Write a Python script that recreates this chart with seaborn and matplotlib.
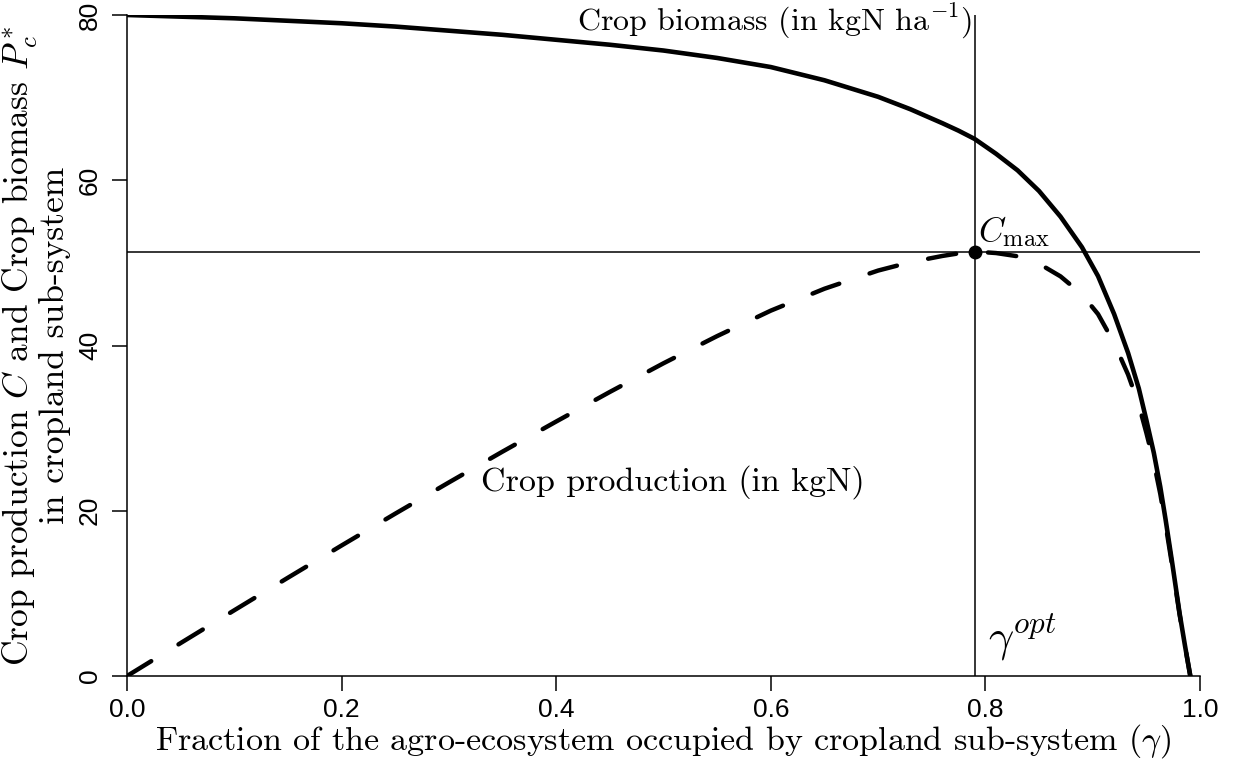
import numpy as np
import pandas as pd
import seaborn as sns
import matplotlib.pyplot as plt

# values
gamma = [0.0, 0.05, 0.1, 0.15, 0.2, 0.25, 0.3, 0.35, 0.4, 0.45, 0.5, 0.55,
         0.6, 0.65, 0.7, 0.73, 0.76, 0.775, 0.79, 0.8, 0.81, 0.83, 0.85, 0.87,
         0.89, 0.905, 0.92, 0.933, 0.943, 0.95, 0.957, 0.963, 0.968, 0.974,
         0.981, 0.986, 0.991]
biomass = [80.0, 79.8, 79.6, 79.3, 79.0, 78.6, 78.1, 77.6, 77.0, 76.4, 75.7, 74.8,
           73.7, 72.1, 70.1, 68.6, 66.9, 66.0, 65.0, 64.1, 63.2, 61.2, 58.7, 55.6,
           51.9, 48.4, 43.8, 39.1, 34.8, 31.0, 27.0, 22.9, 18.9, 13.8,
           7.6, 3.7, 0.0]
production = [0.0, 3.99, 7.96, 11.9, 15.8, 19.65, 23.43, 27.16, 30.8, 34.38, 37.85, 41.14,
              44.22, 46.87, 49.07, 50.08, 50.84, 51.15, 51.35, 51.28, 51.19, 50.8, 49.9, 48.37,
              46.19, 43.8, 40.3, 36.48, 32.82, 29.45, 25.84, 22.05, 18.3, 13.44,
              7.46, 3.65, 0.0]
gamma_opt = 0.79
c_max = 51.3

df = pd.DataFrame({"gamma": gamma, "biomass": biomass, "production": production})

sns.set_theme(style="ticks")
plt.rcParams["mathtext.fontset"] = "cm"
plt.rcParams["font.family"] = ["Liberation Sans", "DejaVu Sans"]
plt.rcParams["text.color"] = "black"
plt.rcParams["axes.labelcolor"] = "black"
serif = ["cmr10", "DejaVu Serif"]

fig = plt.figure(figsize=(12.39, 7.69), dpi=100)
ax = fig.add_axes([0.1025, 0.1209, 0.866, 0.8596])

sns.lineplot(data=df, x="gamma", y="biomass", ax=ax, color="black",
             linewidth=3.3, errorbar=None)
sns.lineplot(data=df, x="gamma", y="production", ax=ax, color="black",
             linewidth=3.2, errorbar=None, linestyle=(0, (6.4, 7.2)))
ax.lines[-1].set_dash_capstyle("round")
ax.lines[0].set_solid_joinstyle("round")

ax.axhline(c_max, color="black", linewidth=1.1)
ax.axvline(gamma_opt, color="black", linewidth=1.1)
ax.plot([gamma_opt], [c_max], "o", color="black", markersize=9)

ax.set_xlim(0, 1)
ax.set_ylim(0, 80)
ax.margins(0)
ax.set_xticks([0.0, 0.2, 0.4, 0.6, 0.8, 1.0])
ax.set_xticklabels(["0.0", "0.2", "0.4", "0.6", "0.8", "1.0"], fontsize=19)
ax.set_yticks([0, 20, 40, 60, 80])
ax.set_yticklabels(["0", "20", "40", "60", "80"], rotation=90, va="center", fontsize=19)
ax.tick_params(axis="both", direction="out", length=11, width=1.1,
               color="black", labelcolor="black", pad=5)
ax.tick_params(axis="y", pad=7)

for side in ["top", "right"]:
    ax.spines[side].set_visible(False)
for side in ["left", "bottom"]:
    ax.spines[side].set_linewidth(1.1)
    ax.spines[side].set_color("black")

ax.set_xlabel(r"Fraction of the agro-ecosystem occupied by cropland sub-system ($\gamma$)",
              family=serif, fontsize=24.5, labelpad=0)
ax.set_ylabel("Crop production $C$ and Crop biomass $P_c^*$\nin cropland sub-system",
              family=serif, fontsize=25.5, linespacing=0.95, labelpad=5)

ax.text(0.7875, 79.2, r"Crop biomass (in kgN ha$^{-1}$)", family=serif,
        fontsize=23, ha="right", va="center")
ax.text(0.33, 23.5, "Crop production (in kgN)", family=serif,
        fontsize=24.5, ha="left", va="center")
ax.text(0.793, 53.8, r"$C_{\mathrm{max}}$", fontsize=25, ha="left", va="center")
ax.text(0.802, 4.6, r"$\gamma^{opt}$", fontsize=32, ha="left", va="center")

fig.savefig("out.png", dpi=100)
